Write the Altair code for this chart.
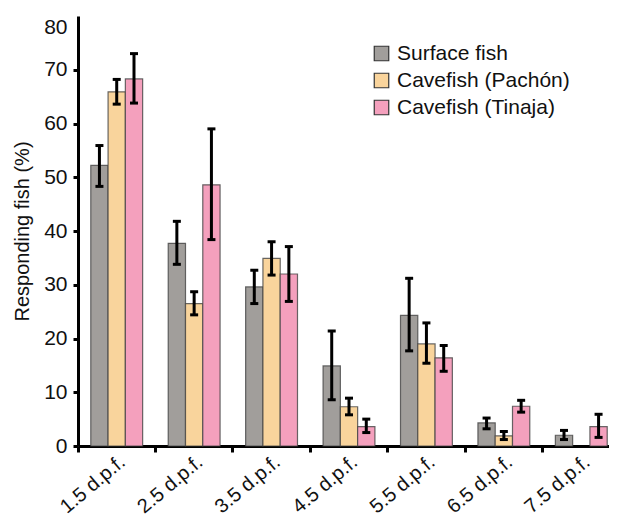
import altair as alt
import pandas as pd

stages = ["1.5 d.p.f.", "2.5 d.p.f.", "3.5 d.p.f.", "4.5 d.p.f.", "5.5 d.p.f.", "6.5 d.p.f.", "7.5 d.p.f."]
groups = ["Surface fish", "Cavefish (Pachón)", "Cavefish (Tinaja)"]
colors = ["#a19e9b", "#f9d49c", "#f4a0bd"]

surface = [52.2, 37.7, 29.6, 14.9, 24.3, 4.3, 2.0]
surface_lo = [48.3, 33.8, 26.5, 8.6, 17.7, 3.2, 1.2]
surface_hi = [55.9, 41.8, 32.7, 21.4, 31.2, 5.2, 2.9]

pachon = [65.9, 26.5, 34.9, 7.3, 19.0, 1.9, None]
pachon_lo = [63.6, 24.4, 31.8, 5.8, 15.4, 1.2, None]
pachon_hi = [68.2, 28.7, 38.0, 8.9, 22.9, 2.7, None]

tinaja = [68.3, 48.6, 32.0, 3.6, 16.4, 7.4, 3.6]
tinaja_lo = [63.8, 38.4, 26.9, 2.5, 13.9, 6.3, 1.6]
tinaja_hi = [73.0, 59.0, 37.1, 5.0, 18.7, 8.5, 5.9]

rows = []
for g, vals, lo, hi in [(groups[0], surface, surface_lo, surface_hi),
                        (groups[1], pachon, pachon_lo, pachon_hi),
                        (groups[2], tinaja, tinaja_lo, tinaja_hi)]:
    for s, v, l, h in zip(stages, vals, lo, hi):
        if v is None:
            continue
        rows.append({"stage": s, "group": g, "value": v, "lo": l, "hi": h})
df = pd.DataFrame(rows)

FONT = "Liberation Sans"
W = 531
H = 430

x = alt.X("stage:N", sort=stages, title=None,
          scale=alt.Scale(paddingInner=0, paddingOuter=0, range=[0, 542]),
          axis=alt.Axis(bandPosition=0))
xo = alt.XOffset("group:N", sort=groups, scale=alt.Scale(paddingOuter=0.74, paddingInner=0))
color = alt.Color("group:N", sort=groups,
                  scale=alt.Scale(domain=groups, range=colors),
                  legend=alt.Legend(title=None, orient="none", legendX=293, legendY=27,
                                    symbolType="square", symbolSize=210,
                                    symbolStrokeColor="#333", symbolStrokeWidth=1.2,
                                    labelFontSize=21, labelFont=FONT, labelColor="#111",
                                    labelLimit=400,
                                    rowPadding=5, labelOffset=5, symbolOpacity=1))

yscale = alt.Scale(domain=[0, 80])

bars = alt.Chart(df).mark_bar(stroke="#444", strokeWidth=1.2, strokeOpacity=0.8, opacity=1).encode(
    x=x, xOffset=xo,
    y=alt.Y("value:Q", scale=yscale, title="Responding fish (%)",
            axis=alt.Axis(values=list(range(0, 81, 10)),
                          labelBaseline={"expr": "datum.value == 80 ? 'top' : 'middle'"},
                          tickOpacity={"expr": "datum.value == 80 ? 0 : 1"})),
    color=color,
)

rules = alt.Chart(df).mark_rule(color="black", strokeWidth=3).encode(
    x=x, xOffset=xo, y=alt.Y("lo:Q", scale=yscale), y2="hi:Q")

caps_lo = alt.Chart(df).mark_tick(color="black", thickness=3, size=8, opacity=1).encode(
    x=x, xOffset=xo, y=alt.Y("lo:Q", scale=yscale))
caps_hi = alt.Chart(df).mark_tick(color="black", thickness=3, size=8, opacity=1).encode(
    x=x, xOffset=xo, y=alt.Y("hi:Q", scale=yscale))

chart = alt.layer(bars, rules, caps_lo, caps_hi).properties(
    width=W, height=H,
    autosize=alt.AutoSizeParams(type="none"),
    padding={"left": 70, "top": 8, "right": 0, "bottom": 77},
).configure_view(stroke=None).configure_axisY(
    grid=False, labelFontSize=21, labelFont=FONT, labelColor="#111",
    titleFont=FONT, titleFontSize=20, titleFontWeight="normal", titleColor="#111",
    titlePadding=11, tickSize=5, tickWidth=3, tickColor="black",
    domainWidth=3, domainColor="black", labelPadding=6,
).configure_axisX(
    labelAngle=-40, labelFontSize=20, labelColor="#111", labelFont=FONT,
    labelAlign="right", labelBaseline="middle", labelPadding=7, labelOffset=6,
    tickSize=6, tickWidth=3, tickColor="black", domainWidth=3, domainColor="black",
    grid=False,
)

chart.save("out.html", embed_options={"renderer": "svg", "actions": False})
